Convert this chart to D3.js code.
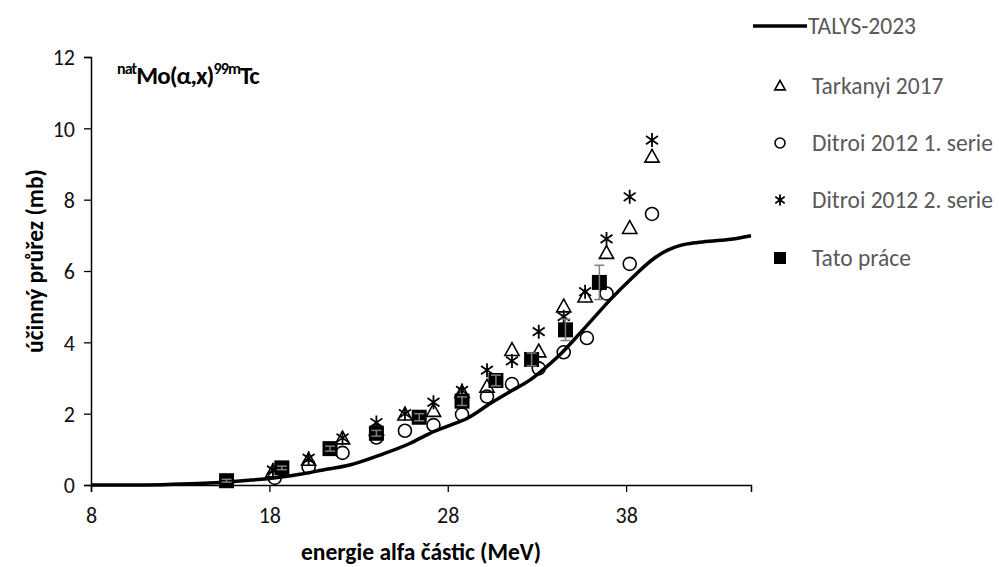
<!DOCTYPE html>
<html>
<head>
<meta charset="utf-8">
<script src="https://cdn.jsdelivr.net/npm/d3@7"></script>
<style>
  html, body { margin: 0; padding: 0; background: #fff; }
  svg { display: block; font-family: Carlito, Calibri, Lato, sans-serif; }
</style>
</head>
<body>
<svg id="chart" width="999" height="567"></svg>
<script>
// TALYS-2023 model curve (energy MeV, cross section mb)
const talysE  = [8, 10, 12, 14, 16, 17, 18, 19.7, 21, 22.5, 24.2, 25.9, 27, 28, 29.1, 30.4, 31.5, 32.6, 33.5, 34.3, 35.4, 36.3, 37.1, 38.4, 39.5, 40.3, 41, 42, 43, 44, 45];
const talysXs = [0, 0, 0.01, 0.04, 0.1, 0.14, 0.18, 0.3, 0.42, 0.56, 0.84, 1.17, 1.45, 1.65, 1.87, 2.29, 2.62, 2.94, 3.3, 3.66, 4.25, 4.75, 5.19, 5.84, 6.33, 6.58, 6.71, 6.8, 6.85, 6.9, 6.99];

// Tarkanyi 2017
const tarkE  = [18.2, 20.2, 22.1, 24.0, 25.6, 27.2, 28.8, 30.2, 31.6, 33.1, 34.5, 35.7, 36.9, 38.2, 39.45];
const tarkXs = [0.38, 0.7, 1.3, 1.55, 1.97, 2.07, 2.6, 2.75, 3.78, 3.74, 5.0, 5.28, 6.5, 7.2, 9.2];

// Ditroi 2012 1. serie
const dit1E  = [18.3, 20.2, 22.1, 24.0, 25.6, 27.2, 28.8, 30.2, 31.6, 33.1, 34.5, 35.8, 36.9, 38.2, 39.45];
const dit1Xs = [0.2, 0.5, 0.9, 1.33, 1.52, 1.68, 1.98, 2.48, 2.83, 3.27, 3.72, 4.12, 5.37, 6.2, 7.6];

// Ditroi 2012 2. serie
const dit2E  = [18.2, 20.2, 22.1, 24.0, 25.6, 27.2, 28.8, 30.2, 31.6, 33.1, 34.5, 35.7, 36.9, 38.2, 39.45];
const dit2Xs = [0.42, 0.75, 1.32, 1.75, 2.0, 2.32, 2.65, 3.22, 3.48, 4.3, 4.72, 5.42, 6.9, 8.08, 9.67];

// Tato práce (with uncertainty)
const tatoE   = [15.6, 18.7, 21.4, 24.0, 26.4, 28.8, 30.7, 32.7, 34.6, 36.5];
const tatoXs  = [0.12, 0.48, 1.02, 1.45, 1.9, 2.35, 2.93, 3.52, 4.35, 5.68];
const tatoErr = [0.04, 0.05, 0.07, 0.08, 0.1, 0.12, 0.15, 0.18, 0.3, 0.48];

const xTicks = [8, 18, 28, 38];
const yTicks = [0, 2, 4, 6, 8, 10, 12];

const legendLabels = ['TALYS-2023', 'Tarkanyi 2017', 'Ditroi 2012 1. serie', 'Ditroi 2012 2. serie', 'Tato práce'];

const svg = d3.select('#chart');
const plot = { left: 91, right: 751, top: 57, bottom: 485 };

const x = d3.scaleLinear().domain([8, 45]).range([plot.left, plot.right]);
const y = d3.scaleLinear().domain([0, 12]).range([plot.bottom, plot.top]);

const zip = (a, b) => a.map((v, i) => ({ e: v, s: b[i] }));

// axes
const yAxis = d3.axisLeft(y).tickValues(yTicks).tickSize(7).tickPadding(9).tickFormat(d3.format('d'));
const xAxis = d3.axisBottom(x).tickValues(xTicks).tickSize(7).tickPadding(18).tickFormat(d3.format('d'));

const yG = svg.append('g').attr('transform', `translate(${plot.left},0)`).call(yAxis);
const xG = svg.append('g').attr('transform', `translate(0,${plot.bottom})`).call(xAxis);

[yG, xG].forEach(g => {
  g.select('.domain').attr('stroke', '#000').attr('stroke-width', 1.5);
  g.selectAll('.tick line').attr('stroke', '#000').attr('stroke-width', 1.3);
  g.selectAll('.tick text').attr('fill', '#111').attr('font-size', 22).attr('font-family', 'Carlito, Calibri, Lato, sans-serif');
});
yG.selectAll('.tick text').attr('dy', '0.35em');
xG.selectAll('.tick text').attr('dy', '0.6em');

// axis titles
svg.append('text')
  .attr('x', (plot.left + plot.right) / 2)
  .attr('y', 560)
  .attr('text-anchor', 'middle')
  .attr('font-size', 23.5)
  .attr('font-weight', 'bold')
  .text('energie alfa částic (MeV)');

svg.append('text')
  .attr('transform', `translate(43,${(plot.top + plot.bottom) / 2 - 10}) rotate(-90)`)
  .attr('text-anchor', 'middle')
  .attr('font-size', 23.5)
  .attr('font-weight', 'bold')
  .text('účinný průřez (mb)');

// reaction title
const title = svg.append('text').attr('x', 117).attr('y', 84).attr('font-weight', 'bold').attr('font-size', 25)
  .attr('letter-spacing', -0.9);
title.append('tspan').attr('font-size', 16).attr('dy', -10).text('nat');
title.append('tspan').attr('dy', 10).text('Mo(α,x)');
title.append('tspan').attr('font-size', 16).attr('dy', -10).text('99m');
title.append('tspan').attr('dy', 10).text('Tc');

// TALYS curve
const line = d3.line().x(d => x(d.e)).y(d => y(d.s)).curve(d3.curveMonotoneX);
svg.append('path')
  .datum(zip(talysE, talysXs))
  .attr('fill', 'none')
  .attr('stroke', '#000')
  .attr('stroke-width', 3.5)
  .attr('d', line);

// marker shapes
const triPath = r => `M0,${-r} L${r * 0.95},${r * 0.7} L${-r * 0.95},${r * 0.7} Z`;
const starPath = r => `M0,${-r} L0,${r} M${-r * 0.85},${-r * 0.6} L${r * 0.85},${r * 0.6} M${-r * 0.85},${r * 0.6} L${r * 0.85},${-r * 0.6}`;

function drawTri(g, cx, cy, r) {
  g.append('path').attr('transform', `translate(${cx},${cy})`).attr('d', triPath(r))
    .attr('fill', 'none').attr('stroke', '#000').attr('stroke-width', 1.6);
}
function drawCircle(g, cx, cy, r) {
  g.append('circle').attr('cx', cx).attr('cy', cy).attr('r', r)
    .attr('fill', 'none').attr('stroke', '#000').attr('stroke-width', 1.6);
}
function drawStar(g, cx, cy, r) {
  g.append('path').attr('transform', `translate(${cx},${cy})`).attr('d', starPath(r))
    .attr('fill', 'none').attr('stroke', '#000').attr('stroke-width', 1.8);
}
function drawSquare(g, cx, cy, r) {
  g.append('rect').attr('x', cx - r).attr('y', cy - r).attr('width', 2 * r).attr('height', 2 * r).attr('fill', '#000');
}

const marks = svg.append('g');
zip(tarkE, tarkXs).forEach(d => drawTri(marks, x(d.e), y(d.s), 7.5));
zip(dit1E, dit1Xs).forEach(d => drawCircle(marks, x(d.e), y(d.s), 6.5));
zip(dit2E, dit2Xs).forEach(d => drawStar(marks, x(d.e), y(d.s), 7));

// error bars for Tato práce
const errG = svg.append('g').attr('stroke', '#7f7f7f').attr('stroke-width', 1.5);
tatoE.forEach((e, i) => {
  const cx = x(e), y0 = y(tatoXs[i] - tatoErr[i]), y1 = y(tatoXs[i] + tatoErr[i]);
  errG.append('line').attr('x1', cx).attr('x2', cx).attr('y1', y0).attr('y2', y1);
  errG.append('line').attr('x1', cx - 5).attr('x2', cx + 5).attr('y1', y0).attr('y2', y0);
  errG.append('line').attr('x1', cx - 5).attr('x2', cx + 5).attr('y1', y1).attr('y2', y1);
});
zip(tatoE, tatoXs).forEach(d => drawSquare(marks, x(d.e), y(d.s), 7.5));

// legend
const legY = [26, 86, 143, 200, 258];
const leg = svg.append('g');
leg.append('line').attr('x1', 753).attr('x2', 807).attr('y1', legY[0]).attr('y2', legY[0])
  .attr('stroke', '#000').attr('stroke-width', 3.5);
drawTri(leg, 780, legY[1], 5.5);
drawCircle(leg, 780, legY[2], 5);
drawStar(leg, 780, legY[3], 5.5);
drawSquare(leg, 780, legY[4], 6);

legendLabels.forEach((t, i) => {
  leg.append('text')
    .attr('x', i === 0 ? 808 : 812)
    .attr('y', legY[i])
    .attr('dy', '0.35em')
    .attr('font-size', 23.5)
    .attr('fill', '#595959')
    .text(t);
});
</script>
</body>
</html>
